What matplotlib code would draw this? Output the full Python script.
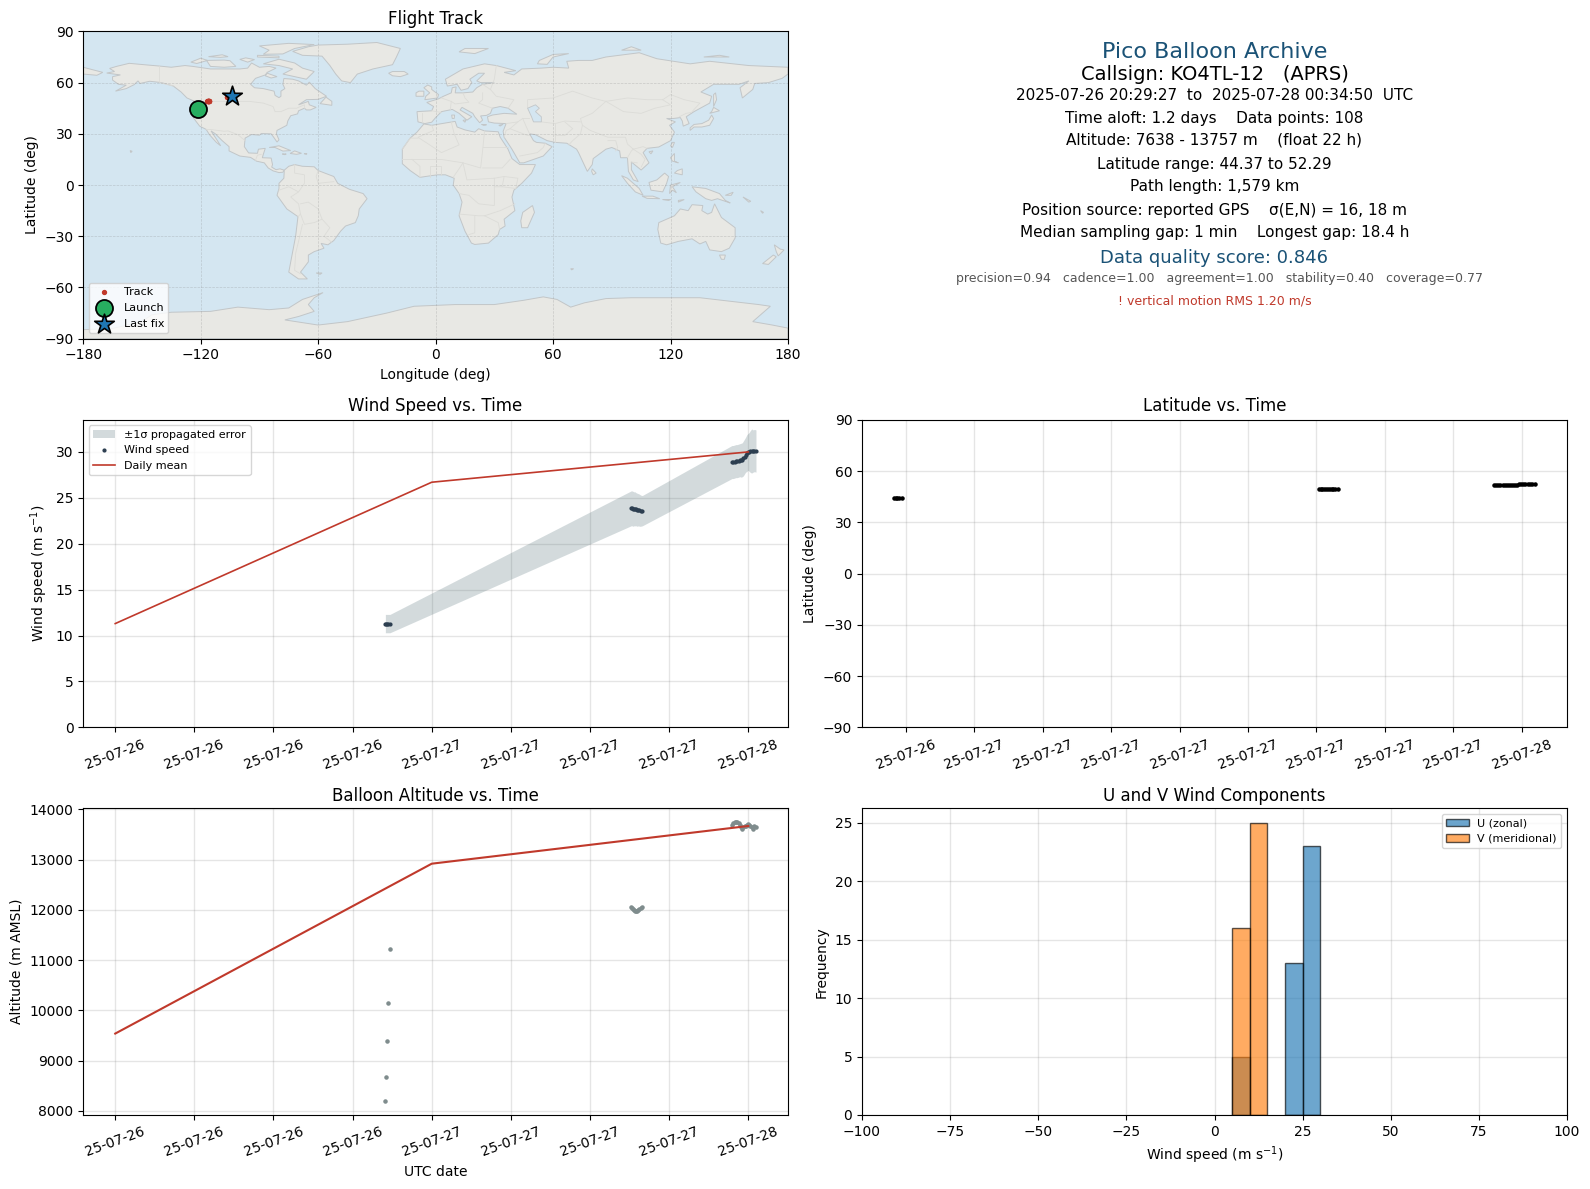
#! usr/bin/env python
# encoding:utf-8
import numpy as np
import pandas as pd
import matplotlib
matplotlib.use('Agg')
import matplotlib.pyplot as plt
import matplotlib.dates as mdates
from matplotlib.patches import Polygon

# flight fixes
fix_time = pd.to_datetime([
    '2025-07-26 20:29', '2025-07-26 20:33', '2025-07-26 20:38', '2025-07-26 20:43', '2025-07-26 20:50',
    '2025-07-27 15:07', '2025-07-27 15:12', '2025-07-27 15:16', '2025-07-27 15:20', '2025-07-27 15:25',
    '2025-07-27 15:30', '2025-07-27 15:35', '2025-07-27 15:40', '2025-07-27 15:45', '2025-07-27 15:50', '2025-07-27 15:58',
    '2025-07-27 22:46', '2025-07-27 22:52', '2025-07-27 22:58', '2025-07-27 23:04', '2025-07-27 23:10',
    '2025-07-27 23:16', '2025-07-27 23:22', '2025-07-27 23:28', '2025-07-27 23:33', '2025-07-27 23:38',
    '2025-07-27 23:43', '2025-07-27 23:48', '2025-07-27 23:53', '2025-07-27 23:58', '2025-07-28 00:04',
    '2025-07-28 00:10', '2025-07-28 00:16', '2025-07-28 00:22', '2025-07-28 00:28', '2025-07-28 00:35'])
fix_lat = [44.37, 44.38, 44.40, 44.42, 44.45,
           49.25, 49.26, 49.28, 49.28, 49.30, 49.30, 49.32, 49.33, 49.34, 49.35, 49.36,
           51.75, 51.76, 51.78, 51.78, 51.80, 51.80, 51.82, 51.83, 51.85, 51.85, 51.88, 51.90,
           52.18, 52.20, 52.22, 52.24, 52.25, 52.27, 52.28, 52.29]
fix_lon = [-121.5, -121.45, -121.4, -121.35, -121.3,
           -116.6, -116.5, -116.4, -116.3, -116.2, -116.1, -116.0, -115.9, -115.8, -115.7, -115.6,
           -106.4, -106.3, -106.2, -106.1, -106.0, -105.9, -105.8, -105.7, -105.6, -105.5, -105.4, -105.3,
           -105.2, -105.0, -104.8, -104.6, -104.4, -104.2, -104.0, -103.9]
fix_wind = [11.3, 11.3, 11.3, 11.3, 11.3,
            23.85, 23.85, 23.8, 23.8, 23.8, 23.75, 23.7, 23.7, 23.65, 23.6, 23.6,
            28.9, 28.9, 28.95, 29.0, 29.0, 29.05, 29.1, 29.1, 29.15, 29.3, 29.5, 29.7,
            29.85, 30.0, 30.0, 30.05, 30.1, 30.1, 30.15, 30.1]
fix_sigma = [1.0, 1.0, 1.0, 1.0, 1.0,
             1.9, 1.9, 1.9, 1.85, 1.85, 1.8, 1.8, 1.75, 1.75, 1.7, 1.65,
             1.8, 1.8, 1.8, 1.8, 1.8, 1.8, 1.8, 1.85, 1.85, 1.9, 1.9, 1.9,
             2.0, 2.0, 2.1, 2.3, 2.4, 2.3, 2.3, 2.3]
fix_alt = [8190, 8680, 9400, 10150, 11230,
           12060, 12030, 12010, 11990, 11980, 11975, 11985, 12000, 12020, 12040, 12055,
           13680, 13720, 13740, 13757, 13745, 13720, 13690, 13640, 13620, 13650, 13670, 13660,
           13690, 13700, 13680, 13660, 13640, 13620, 13660, 13640]

# daily means
mean_time = pd.to_datetime(['2025-07-26', '2025-07-27', '2025-07-28'])
mean_wind = [11.3, 26.7, 30.0]
mean_alt = [9540, 12920, 13670]

# histogram counts, 5 m/s bins
bin_left = [5, 10, 20, 25]
u_counts = [5, 0, 13, 23]
v_counts = [16, 25, 0, 0]

# rough coastlines, lon/lat
land_north_america = [(-168,65.6),(-164,66.5),(-166.5,68.3),(-163,69.5),(-156.5,71.3),(-148,70.4),(-141,69.7),(-135,69),(-128,70),(-124,69.5),(-115,68),(-108,68),(-100,68),(-96,68.5),(-94,71.5),(-90,69),(-85,69.5),(-81.5,68.5),(-86,66),(-87,64.5),(-92,62.5),(-94.5,59),(-92.5,57),(-88,56.5),(-82.5,55),(-82,52.5),(-80,51.2),(-79,52),(-79,55),(-77,56.5),(-78,59),(-77.5,62.4),(-73,62),(-70,61),(-66,58.5),(-64.5,60.3),(-61.5,56.5),(-57,53),(-55.7,52),(-60,50.2),(-66,50),(-70,47),(-65,49),(-64.5,47),(-61,45.5),(-64,44),(-66,44),(-67,45),(-70,43.5),(-70.5,41.7),(-74,40.6),(-75.5,37.5),(-76,35),(-81,32),(-81.3,30),(-80,26.5),(-81,25.2),(-82.7,28),(-84,30),(-89,30.2),(-90,29.2),(-94,29.6),(-97.3,27.5),(-97.7,22.5),(-95.5,18.8),(-91,18.6),(-90.5,21),(-87,21.5),(-88,18),(-88.5,16),(-84,15.8),(-83.3,12),(-83.7,10.5),(-81.5,9),(-79.5,9.5),(-77.3,8.7),(-78,7.5),(-80,7.3),(-81.5,7.8),(-83,8.3),(-85.5,10),(-87.5,13),(-91.5,14),(-94.5,16.2),(-100,17),(-105.5,20),(-105.5,22.5),(-109,26),(-112.5,30),(-114.7,31.7),(-112,27),(-109.8,23),(-112,25),(-115.5,29.5),(-117.2,32.6),(-120.5,34.5),(-122.5,37.5),(-124.3,40.4),(-124,46),(-123,49),(-127,51),(-130,54.5),(-134,58),(-140,60),(-146,60.8),(-151,59.5),(-152,61),(-154,58.8),(-158,56.5),(-163.5,55),(-158,58.5),(-162,59),(-165,61.5),(-165,63.5),(-161,64.5)]
land_south_america = [(-77.3,8.7),(-75,11),(-72,12),(-68,11),(-62,10.7),(-60,8.5),(-52,5),(-50,1),(-44,-2.5),(-37,-5),(-35,-8),(-39,-14),(-39.5,-18),(-41,-22),(-46,-24),(-48.5,-27),(-52,-32.5),(-55,-35),(-58.5,-34.2),(-57,-37),(-62,-39),(-65,-41),(-65,-45),(-69,-51),(-65.5,-55),(-70,-55),(-75,-51),(-73.5,-42),(-71.5,-30),(-70.3,-18.5),(-76,-14),(-81,-6),(-80,-2),(-80,1),(-77.5,4)]
land_africa = [(-6,35.8),(-2,35),(10,37.3),(11,34),(15,32.3),(20,31),(22,33),(25,31.7),(32,31.2),(33,28),(37,21),(39,15.5),(43,12),(51,12),(49,7),(44,1),(40,-3),(39,-7),(40.5,-15),(35,-20),(35.5,-24),(32.7,-26),(32,-29),(27,-34),(20,-34.8),(18.3,-34),(15,-27),(12,-18),(13.5,-10),(12,-5),(9,0),(9.5,4),(5,6),(1,6),(-4,5.2),(-8,4.5),(-13,8.5),(-17,12.5),(-17,21),(-13,27.5),(-9.5,31)]
land_eurasia = [(-9,37),(-9.5,43),(-2,43.5),(-1,46),(-4.5,48.4),(1.5,50.5),(4,52),(8,54),(8.5,57),(10.5,57.5),(10,54),(14,54),(19,54.5),(21,57),(24,59),(30,60),(23,60),(21,61),(25,65.5),(22,65.5),(17.5,62),(18.5,60),(16.5,56.5),(13,55.5),(11,59),(6,58),(5,62),(14,68),(25,71),(31,70),(41,67),(35,66),(40,64.5),(44,68),(54,68.5),(60,69),(68,68.5),(67,72.5),(73,73),(80,73),(87,75),(104,77.5),(113,74),(130,71),(140,72.5),(160,70),(170,69.5),(180,69),(180,65),(177,62.5),(170,60),(163,59.5),(162,56),(156.7,51),(155.5,57),(160,61),(155,59),(142,59),(135.5,54.5),(141,52),(140,48),(132,43),(128,40),(129.5,36),(126.5,34.5),(126,37.5),(125,39.5),(121.5,39),(118,39),(122.5,37),(119.5,35),(122,31),(120,26),(114,22.3),(108,21.5),(106,19),(109,13),(105,8.8),(100,13.5),(100,9),(103.5,2),(101,3),(98.5,8),(98,16),(94.5,16),(94,20),(90,22),(87,21),(80.5,15.5),(80,12),(77.5,8),(73,19),(72,21),(67,24.5),(61,25),(57,26),(51,29.5),(48,30),(50,26),(51.5,25),(56,24.5),(59.5,22.5),(55,17),(45,13),(43,13),(39,21),(35,28),(34.5,31.5),(36,36),(30,36.3),(27,37),(26.5,40),(29,41),(35,42),(41.5,41.5),(37,45),(33,46),(29,45),(28,42),(26,40.8),(23,40.5),(24,38),(22.5,36.5),(20,40),(19,42),(13.5,45.5),(12.5,44),(18.5,40),(16,38),(12,42),(8.5,44.3),(3,43),(0,39.5),(-2,36.8),(-5.5,36)]
land_australia = [(114,-22),(113.5,-26),(115,-34),(118,-35),(124,-33),(131,-31.5),(135,-34.5),(138,-33),(140,-38),(146,-39),(150,-37),(153,-31),(153,-25),(146,-19),(142.5,-11),(141,-16),(139,-17),(136,-15),(136.5,-12),(131,-11.5),(129,-15),(125,-14),(122,-18)]
land_antarctica = [(-180,-90),(-180,-84.7),(-165,-84),(-150,-80),(-145,-76),(-135,-74.5),(-115,-74),(-101,-71.5),(-85,-73),(-75,-72),(-68,-67),(-57.5,-63),(-62,-66),(-65,-70),(-62,-74),(-70,-77),(-77,-79),(-60,-82),(-45,-80),(-37,-78),(-25,-75),(-11,-71),(10,-70),(30,-70),(45,-67.5),(55,-65.5),(62,-67),(69,-71.5),(76,-69),(87,-66.5),(100,-66),(120,-66),(135,-66),(150,-68),(165,-70),(171,-71),(165,-77),(162,-80),(172,-82),(180,-83.8),(180,-90)]
land_greenland = [(-73,78.3),(-68,76),(-58,75.5),(-54,70),(-51,65),(-48,61),(-43.5,60),(-40,65),(-32,68),(-22,70.5),(-20,75),(-18,80),(-30,83.5),(-45,82.5),(-60,82),(-65,81)]
land_islands = [
    [(-180,69),(-175,67.5),(-170,66),(-173,64.3),(-180,65)],
    [(-80,73.7),(-72,71.5),(-68,68.5),(-62,66.5),(-66,62),(-72,63.5),(-78,65),(-73,68),(-80,70),(-88,71)],
    [(-117,73),(-108,73.2),(-105,72.8),(-102,69.5),(-108,69),(-115,69.5)],
    [(-88,76.6),(-78,76.8),(-72,80),(-62,82.3),(-75,83),(-90,81.5),(-85,79)],
    [(-125,72),(-120,74.3),(-116.5,73),(-122,71.2)],
    [(-91,75),(-80,74.5),(-80,75.5),(-91,76)],
    [(-116,75.2),(-110,74.8),(-106,75.2),(-109,76.3)],
    [(-100,73.6),(-96,72),(-92.5,73.5),(-97,74.5)],
    [(-86,65.5),(-81,63.5),(-84,62.7),(-87,64)],
    [(-59,47.7),(-53,46.7),(-53,49),(-56,51.5)],
    [(-85,22),(-80,23),(-74,20.2),(-78,19.9),(-82,22)],
    [(-74.3,18.5),(-72,20),(-68.5,18.6),(-71,18)],
    [(-78.3,18.2),(-76.3,18.2),(-77,17.8)],
    [(-67.2,18.4),(-65.7,18.4),(-66,18)],
    [(-156,20.2),(-155,19.8),(-155.7,19)],
    [(-61,-51.5),(-58,-51.5),(-59,-52.3)],
    [(-5.5,50),(1,51),(1.5,53),(-2,56),(-2,57.5),(-4,58.6),(-6,57),(-3,54),(-5,52)],
    [(-10,52),(-6,52),(-6,55),(-8.5,55),(-10,54)],
    [(-24,65.5),(-22,64),(-18,63.5),(-14,65),(-16,66.5),(-22,66.5)],
    [(12,78),(20,77),(27,80),(15,80)],
    [(52,71),(57,70.7),(60,75),(68,77),(60,76.5),(53,73)],
    [(95,79),(105,79),(100,81)],
    [(137,75),(150,75),(145,76)],
    [(142,46),(143.5,50),(143,54),(142,53)],
    [(130,32),(132,34),(136,34),(140,35),(142,39),(141,41),(139.5,38),(136,36),(132,35.5),(130,33.5)],
    [(140,42),(145,43.5),(142,45.5),(141,43)],
    [(120,23),(121,22),(122,25),(121,25)],
    [(109,19.5),(111,20),(110,18.3)],
    [(120,16),(122,18.5),(122,14),(124,13),(121,14)],
    [(122,7),(126,6),(126,9.5),(123.5,8.5)],
    [(95,5.5),(98,4),(104,-2),(106,-6),(102,-4),(98,1)],
    [(105.5,-6.5),(111,-6.5),(114.5,-8),(108,-7.8)],
    [(109,1.5),(113,3),(117,7),(119,5),(118,1),(116,-4),(110,-3)],
    [(119.5,-5),(120,0),(125,1.5),(121,-1),(123,-4.5),(121,-3)],
    [(116,-8.5),(120,-8.5),(119,-9)],
    [(124,-10),(127,-8.5),(124,-9)],
    [(131,-1),(138,-2),(145,-5),(148,-9),(150.5,-10.5),(144,-8),(141,-9),(138,-8),(133,-4)],
    [(148,-6),(152,-4.2),(151,-6)],
    [(157,-7),(161,-9.5),(160,-10)],
    [(166,-15),(167.5,-16),(167,-16.5)],
    [(145,-41),(148,-41),(147.5,-43.5),(146,-43.5)],
    [(173,-35),(176,-37.5),(178,-38),(175,-41.5),(174,-39)],
    [(172.5,-41),(174,-42),(170,-46.5),(167,-46)],
    [(49.5,-12),(50.5,-16),(47,-25),(44,-25),(43.5,-21),(44.5,-16)],
    [(80,9.5),(82,7),(80.5,6),(79.7,8)],
    [(69,-49),(70.5,-49),(69.5,-49.7)],
    [(14,37.9),(15.5,38.2),(15,36.8)],
    [(8.2,41),(9.7,41),(9.5,39),(8.5,39)],
    [(32.3,35),(34.5,35.6),(33,34.6)],
    [(23.5,35.5),(26,35.3),(24.5,35)],
]
inland_water = [
    [(47,45),(51,47),(53,45),(51,43),(54,40),(54,37),(50,37),(49,40)],
]
country_lines = [
    [(-141,69.7),(-141,60),(-134,58)],
    [(-123,49),(-95,49),(-88,48),(-83,46),(-82,43),(-79,43),(-75,45),(-71,45),(-67,47),(-67,45)],
    [(-117.2,32.6),(-114.7,32.5),(-108,31.5),(-106,31.7),(-101,29.5),(-97.3,26)],
    [(-92,14.5),(-91,17.5),(-89,18)],
    [(-72,12),(-72,7),(-67,6),(-67,1),(-70,-4),(-74,-7),(-70,-11),(-69,-17),(-70.3,-18.5)],
    [(-60,8.5),(-61,5),(-60,1),(-52,2)],
    [(-80,-3),(-75,-1),(-70,-4)],
    [(-69,-11),(-65,-10),(-60,-14),(-58,-20),(-54,-25),(-57,-30),(-53,-33.5)],
    [(-69,-17),(-67,-23),(-62,-22),(-58,-20)],
    [(-68,-23),(-70,-33),(-71.5,-40),(-72,-50),(-69,-52)],
    [(-9,27.5),(-13,27.5),(-17,21)],
    [(-2,35),(-1,32),(-9,28),(-5,25),(3,19),(12,23.5),(9.5,30),(8,37)],
    [(-17,15),(-12,15),(-5,15),(3,15),(14,13),(23,10),(24,20),(25,31.7)],
    [(24,22),(37,22)],
    [(24,10),(34,10),(38,15)],
    [(9,4.5),(14,13)],
    [(14,13),(16,3),(30,4),(35,5),(42,4),(41,-2)],
    [(-8,4.5),(-8,11),(-12,15)],
    [(-3,5),(-3,11),(3,11),(3,6)],
    [(12,-5),(17,-6),(22,-11),(30,-12),(30,-4),(30,4)],
    [(12,-17),(22,-18),(25,-18),(33,-15),(40.5,-11)],
    [(20,-18),(20,-28),(17,-29)],
    [(25,-18),(32,-22),(32.7,-26)],
    [(30,-1),(34,-1),(41,-2)],
    [(34,-1),(35,5)],
    [(-2,43.5),(3,42.5)],
    [(-7,37),(-7,42)],
    [(3,51),(8,49),(7.5,44)],
    [(14,54),(15,51),(17,48.5),(10,47.5),(8,49)],
    [(24,54),(24,50),(22,48),(29,45)],
    [(24,59),(28,56),(31,52),(40,50),(37,45)],
    [(31,70),(30,62),(28,56)],
    [(47,45),(47,50),(60,51),(70,55),(80,51),(87,49),(98,51),(108,50),(116,50),(120,53),(127,50),(135,48),(131,43)],
    [(87,49),(80,42),(74,39),(75,35),(79,32),(88,28),(97,28),(98,24),(101,21),(106,22.5),(108,21.5)],
    [(87,49),(96,43),(105,42),(112,45),(120,47),(116,50)],
    [(124.5,40),(128,42),(130.5,42.5)],
    [(54,37),(61,36),(66,37.5),(74,37)],
    [(61,36),(61,31),(61,25)],
    [(66,37),(70,33),(66,29),(61,29)],
    [(75,35),(74,30),(70,26),(68,23.5)],
    [(88,26),(92,26),(93,22),(92,20)],
    [(98,16),(100,20),(101,21)],
    [(101,21),(105,18),(107,15),(105,10.5)],
    [(100,13.5),(103,13)],
    [(36,36),(42,37),(44.5,39),(48,39)],
    [(44.5,39),(46,35),(48,30)],
    [(42,37),(38,33),(36,32),(35,28)],
    [(38,33),(47,29),(48,29)],
    [(43,17),(52,19),(55,22),(56,24.5)],
]

tick_fmt = mdates.DateFormatter('%y-%m-%d')
W, H = 1590.0, 1189.0
red = '#c0392b'
navy = '#1a5276'
dark = '#2c3e50'


def px_axes(fig, left, top, right, bottom):
    return fig.add_axes([left / W, 1 - bottom / H, (right - left) / W, (bottom - top) / H])


def time_axis(ax, hours):
    ax.xaxis.set_major_locator(mdates.HourLocator(byhour=hours))
    ax.xaxis.set_major_formatter(tick_fmt)
    ax.tick_params(axis='x', rotation=20)
    ax.grid(True, color='gray', alpha=0.2, lw=1)
    ax.set_axisbelow(True)


fig = plt.figure(figsize=(W / 100, H / 100), dpi=100)

# flight track
ax = px_axes(fig, 83.2, 31.4, 788.0, 338.7)
ax.set_facecolor('#d4e6f1')
shapes = [land_north_america, land_south_america, land_africa, land_eurasia,
          land_australia, land_antarctica, land_greenland] + land_islands
for shape in shapes:
    ax.add_patch(Polygon(shape, closed=True, fc='#e8e8e4', ec='#c2c6c8', lw=0.7, zorder=1))
for line in country_lines:
    xs, ys = zip(*line)
    ax.plot(xs, ys, color='#dcdcd8', lw=0.6, zorder=1.5)
for shape in inland_water:
    ax.add_patch(Polygon(shape, closed=True, fc='#d4e6f1', ec='#c2c6c8', lw=0.6, zorder=1.6))
ax.grid(True, color='gray', alpha=0.3, lw=0.5, ls='--', zorder=2)
ax.scatter(fix_lon, fix_lat, s=8, color=red, zorder=3, label='Track')
ax.scatter(fix_lon[0], fix_lat[0], s=150, color='#27ae60', edgecolors='black', linewidths=1.3, zorder=4, label='Launch')
ax.scatter(fix_lon[-1], fix_lat[-1], s=220, marker='*', color='#1f77b4', edgecolors='black', linewidths=1.2, zorder=5, label='Last fix')
ax.set_xlim(-180, 180)
ax.set_ylim(-90, 90)
ax.set_xticks(range(-180, 181, 60))
ax.set_yticks(range(-90, 91, 30))
ax.set_xlabel('Longitude (deg)')
ax.set_ylabel('Latitude (deg)')
ax.set_title('Flight Track', fontsize=12, pad=5)
ax.legend(loc='lower left', fontsize=8, labelspacing=0.55, borderpad=0.35)

# summary text
info_lines = ['Pico Balloon Archive', 'Callsign: KO4TL-12   (APRS)',
              '2025-07-26 20:29:27  to  2025-07-28 00:34:50  UTC',
              'Time aloft: 1.2 days    Data points: 108',
              'Altitude: 7638 - 13757 m    (float 22 h)',
              'Latitude range: 44.37 to 52.29',
              'Path length: 1,579 km',
              'Position source: reported GPS    σ(E,N) = 16, 18 m',
              'Median sampling gap: 1 min    Longest gap: 18.4 h',
              'Data quality score: 0.846',
              'precision=0.94   cadence=1.00   agreement=1.00   stability=0.40   coverage=0.77',
              '! vertical motion RMS 1.20 m/s']
info_x = [1215, 1215, 1215, 1214, 1214, 1214, 1215, 1215, 1215, 1214, 1219, 1215]
info_y = [52, 74, 95, 118, 140, 164, 187, 210, 233, 258, 279, 301]
info_size = [16, 14, 11, 11, 11, 11, 11, 11, 11, 13, 9, 9]
info_color = [navy, 'black', 'black', 'black', 'black', 'black', 'black', 'black', 'black', navy, '#555555', red]
for txt, x, y, size, col in zip(info_lines, info_x, info_y, info_size, info_color):
    fig.text(x / W, 1 - y / H, txt, fontsize=size, color=col, ha='center', va='center')

# wind speed
ax = px_axes(fig, 83.2, 419.8, 788.0, 727.3)
wind = np.array(fix_wind)
sigma = np.array(fix_sigma)
ax.fill_between(fix_time, wind - sigma, wind + sigma, color='#43636b', alpha=0.23, lw=0, label='±1σ propagated error')
ax.scatter(fix_time, fix_wind, s=4, color=dark, zorder=3, label='Wind speed')
ax.plot(mean_time, mean_wind, color=red, lw=1.2, zorder=4, label='Daily mean')
ax.set_ylim(0, 33.5)
time_axis(ax, range(0, 24, 6))
ax.set_ylabel('Wind speed (m s$^{-1}$)')
ax.set_title('Wind Speed vs. Time', fontsize=12, pad=6)
ax.legend(loc='upper left', fontsize=8)

# latitude
ax = px_axes(fig, 862.0, 419.8, 1567.0, 727.3)
ax.scatter(fix_time, fix_lat, s=5, color='black', zorder=3)
ax.set_ylim(-90, 90)
ax.set_yticks(range(-90, 91, 30))
time_axis(ax, range(0, 24, 3))
ax.set_ylabel('Latitude (deg)')
ax.set_title('Latitude vs. Time', fontsize=12, pad=6)

# altitude
ax = px_axes(fig, 83.2, 808.4, 788.0, 1115.0)
ax.scatter(fix_time, fix_alt, s=5, color='#7f8c8d', zorder=3)
ax.plot(mean_time, mean_alt, color=red, lw=1.5, zorder=4)
ax.set_ylim(7920, 14020)
time_axis(ax, range(0, 24, 6))
ax.set_xlabel('UTC date')
ax.set_ylabel('Altitude (m AMSL)')
ax.set_title('Balloon Altitude vs. Time', fontsize=12, pad=5)

# wind components
ax = px_axes(fig, 862.0, 808.4, 1567.0, 1115.0)
ax.bar(bin_left, u_counts, width=5, align='edge', color='#1f77b4', alpha=0.65, edgecolor='black', label='U (zonal)')
ax.bar(bin_left, v_counts, width=5, align='edge', color='#ff7f0e', alpha=0.65, edgecolor='black', label='V (meridional)')
ax.set_xlim(-100, 100)
ax.grid(True, color='gray', alpha=0.2, lw=1)
ax.set_axisbelow(True)
ax.set_xlabel('Wind speed (m s$^{-1}$)')
ax.set_ylabel('Frequency')
ax.set_title('U and V Wind Components', fontsize=12, pad=5)
ax.legend(loc='upper right', fontsize=8)

fig.savefig('out.png', dpi=100)
